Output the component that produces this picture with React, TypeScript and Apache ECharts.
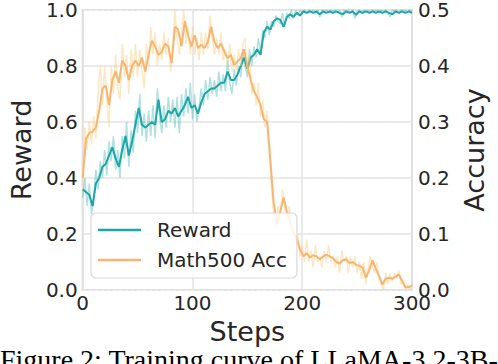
import React, { useEffect, useRef } from "react";
import * as echarts from "echarts";

// Smoothed curves, sampled every 3 steps (0..300)
const smoothSteps: number[] = [
  0, 3, 6, 9, 12, 15, 18, 21, 24, 27, 30, 33, 36, 39, 42, 45, 48, 51, 54, 57,
  60, 63, 66, 69, 72, 75, 78, 81, 84, 87, 90, 93, 96, 99, 102, 105, 108, 111, 114, 117,
  120, 123, 126, 129, 132, 135, 138, 141, 144, 147, 150, 153, 156, 159, 162, 165, 168, 171, 174, 177,
  180, 183, 186, 189, 192, 195, 198, 201, 204, 207, 210, 213, 216, 219, 222, 225, 228, 231, 234, 237,
  240, 243, 246, 249, 252, 255, 258, 261, 264, 267, 270, 273, 276, 279, 282, 285, 288, 291, 294, 297, 300,
];
const rewardSmooth: number[] = [
  0.36, 0.35, 0.34, 0.30, 0.38, 0.40, 0.44, 0.45, 0.48, 0.51, 0.47, 0.44, 0.50, 0.55, 0.48, 0.53, 0.59, 0.65, 0.59, 0.58,
  0.59, 0.60, 0.59, 0.68, 0.60, 0.61, 0.64, 0.63, 0.65, 0.62, 0.64, 0.66, 0.69, 0.65, 0.66, 0.63, 0.67, 0.70, 0.71, 0.72,
  0.72, 0.73, 0.74, 0.74, 0.78, 0.75, 0.75, 0.77, 0.80, 0.83, 0.79, 0.83, 0.84, 0.86, 0.84, 0.92, 0.94, 0.93, 0.96, 0.97,
  0.965, 0.94, 0.975, 0.985, 0.975, 0.99, 0.98, 0.995, 0.99, 0.995, 0.99, 0.995, 0.985, 0.995, 0.99, 0.995, 0.99, 0.995, 0.99, 0.985,
  0.995, 0.99, 0.995, 0.983, 0.995, 0.99, 0.995, 0.99, 0.995, 0.99, 0.995, 0.99, 0.995, 0.99, 0.985, 0.995, 0.99, 0.995, 0.99, 0.995, 0.99,
];
const accSmooth: number[] = [
  0.20, 0.27, 0.28, 0.283, 0.29, 0.32, 0.36, 0.365, 0.33, 0.375, 0.39, 0.37, 0.41, 0.40, 0.375, 0.40, 0.41, 0.40, 0.415, 0.39,
  0.42, 0.445, 0.435, 0.42, 0.425, 0.44, 0.435, 0.405, 0.47, 0.465, 0.435, 0.48, 0.455, 0.435, 0.455, 0.432, 0.438, 0.432, 0.443, 0.47,
  0.443, 0.432, 0.44, 0.426, 0.414, 0.42, 0.402, 0.408, 0.414, 0.43, 0.40, 0.375, 0.355, 0.345, 0.33, 0.305, 0.30, 0.23, 0.155, 0.118,
  0.14, 0.165, 0.14, 0.122, 0.102, 0.092, 0.072, 0.06, 0.066, 0.058, 0.062, 0.06, 0.055, 0.06, 0.063, 0.06, 0.057, 0.05, 0.047, 0.053,
  0.055, 0.048, 0.05, 0.045, 0.043, 0.04, 0.022, 0.035, 0.053, 0.038, 0.025, 0.01, 0.02, 0.022, 0.02, 0.024, 0.028, 0.016, 0.005, 0.005, 0.008,
];

// Raw (noisy) curves, sampled every 2 steps (0..300)
const rawSteps: number[] = [
  0, 2, 4, 6, 8, 10, 12, 14, 16, 18, 20, 22, 24, 26, 28, 30, 32, 34, 36, 38,
  40, 42, 44, 46, 48, 50, 52, 54, 56, 58, 60, 62, 64, 66, 68, 70, 72, 74, 76, 78,
  80, 82, 84, 86, 88, 90, 92, 94, 96, 98, 100, 102, 104, 106, 108, 110, 112, 114, 116, 118,
  120, 122, 124, 126, 128, 130, 132, 134, 136, 138, 140, 142, 144, 146, 148, 150, 152, 154, 156, 158,
  160, 162, 164, 166, 168, 170, 172, 174, 176, 178, 180, 182, 184, 186, 188, 190, 192, 194, 196, 198,
  200, 202, 204, 206, 208, 210, 212, 214, 216, 218, 220, 222, 224, 226, 228, 230, 232, 234, 236, 238,
  240, 242, 244, 246, 248, 250, 252, 254, 256, 258, 260, 262, 264, 266, 268, 270, 272, 274, 276, 278,
  280, 282, 284, 286, 288, 290, 292, 294, 296, 298, 300,
];
const rewardRaw: number[] = [
  0.33, 0.40, 0.30, 0.38, 0.27, 0.33, 0.43, 0.36, 0.46, 0.40, 0.50, 0.41, 0.53, 0.46, 0.55, 0.43, 0.50, 0.40, 0.55, 0.47,
  0.60, 0.44, 0.57, 0.49, 0.64, 0.56, 0.70, 0.55, 0.63, 0.53, 0.64, 0.55, 0.66, 0.54, 0.72, 0.62, 0.56, 0.66, 0.58, 0.69,
  0.60, 0.68, 0.58, 0.69, 0.56, 0.70, 0.62, 0.72, 0.63, 0.74, 0.61, 0.70, 0.60, 0.65, 0.72, 0.66, 0.75, 0.68, 0.76, 0.70,
  0.75, 0.69, 0.78, 0.71, 0.77, 0.71, 0.82, 0.74, 0.70, 0.79, 0.73, 0.80, 0.76, 0.86, 0.80, 0.76, 0.86, 0.80, 0.87, 0.83,
  0.90, 0.85, 0.93, 0.90, 0.96, 0.91, 0.96, 0.94, 0.98, 0.96, 0.95, 0.99, 0.94, 0.99, 0.97, 1.0, 0.97, 1.0, 0.98, 1.0,
  0.99, 1.0, 0.99, 1.0, 0.995, 1.0, 0.99, 1.0, 0.975, 1.0, 0.995, 1.0, 0.99, 1.0, 0.995, 1.0, 0.99, 1.0, 0.975, 1.0,
  0.995, 1.0, 0.99, 1.0, 0.97, 0.995, 1.0, 0.99, 1.0, 0.995, 1.0, 0.99, 1.0, 0.995, 1.0, 0.99, 1.0, 0.995, 1.0, 0.99,
  0.975, 1.0, 0.995, 1.0, 0.99, 1.0, 0.995, 1.0, 0.99, 1.0, 0.995,
];
const accRaw: number[] = [
  0.19, 0.29, 0.25, 0.30, 0.26, 0.31, 0.27, 0.35, 0.40, 0.33, 0.40, 0.34, 0.29, 0.40, 0.35, 0.42, 0.36, 0.34, 0.44, 0.38,
  0.42, 0.35, 0.43, 0.38, 0.44, 0.38, 0.43, 0.39, 0.36, 0.44, 0.40, 0.47, 0.42, 0.46, 0.40, 0.44, 0.41, 0.46, 0.42, 0.45,
  0.39, 0.43, 0.50, 0.45, 0.42, 0.46, 0.50, 0.44, 0.47, 0.42, 0.47, 0.42, 0.45, 0.41, 0.46, 0.42, 0.46, 0.43, 0.49, 0.45,
  0.42, 0.45, 0.42, 0.46, 0.41, 0.43, 0.40, 0.44, 0.39, 0.42, 0.39, 0.43, 0.40, 0.44, 0.45, 0.39, 0.42, 0.35, 0.37, 0.33,
  0.37, 0.31, 0.34, 0.29, 0.32, 0.26, 0.18, 0.14, 0.11, 0.15, 0.12, 0.18, 0.15, 0.12, 0.15, 0.10, 0.12, 0.08, 0.10, 0.06,
  0.08, 0.05, 0.09, 0.05, 0.07, 0.04, 0.08, 0.05, 0.06, 0.04, 0.07, 0.05, 0.08, 0.05, 0.06, 0.04, 0.06, 0.03, 0.07, 0.05,
  0.06, 0.03, 0.06, 0.04, 0.06, 0.03, 0.05, 0.02, 0.05, 0.01, 0.04, 0.06, 0.04, 0.03, 0.05, 0.02, 0.01, 0.0, 0.03, 0.01,
  0.03, 0.015, 0.03, 0.02, 0.035, 0.01, 0.02, 0.0, 0.01, 0.0, 0.01,
];

const xTicks = [0, 100, 200, 300];
const rewardTicks = [0, 0.2, 0.4, 0.6, 0.8, 1.0];
const accTicks = [0, 0.1, 0.2, 0.3, 0.4, 0.5];
const caption = "Figure 2: Training curve of LLaMA-3.2-3B-";

const FONT = "DejaVu Sans";
const TEXT = "#262626";

export default function App() {
  const ref = useRef<HTMLDivElement>(null);
  useEffect(() => {
    if (!ref.current) return;
    const chart = echarts.init(ref.current, undefined, { renderer: "svg" });
    const pair = (xs: number[], ys: number[]) => xs.map((x, i) => [x, ys[i]]);
    chart.setOption({
      animation: false,
      backgroundColor: "#ffffff",
      textStyle: { fontFamily: FONT },
      grid: {
        left: 80,
        right: 86,
        top: 10,
        bottom: 74,
        show: true,
        borderColor: "#d9d9d9",
        borderWidth: 2,
        backgroundColor: "transparent",
      },
      legend: {
        data: ["Reward", "Math500 Acc"],
        orient: "vertical",
        left: 91,
        top: 213,
        padding: [7, 10, 8, 7],
        icon: "rect",
        itemWidth: 43,
        itemHeight: 2.5,
        itemGap: 10,
        borderColor: "#d9d9d9",
        borderWidth: 1.2,
        borderRadius: 5,
        backgroundColor: "rgba(255,255,255,0.85)",
        textStyle: {
          fontFamily: FONT,
          fontSize: 20,
          color: TEXT,
          lineHeight: 20,
          height: 20,
          padding: [0, 0, 0, 11],
        },
      },
      xAxis: {
        type: "value",
        min: xTicks[0],
        max: xTicks[xTicks.length - 1],
        interval: 100,
        name: "Steps",
        nameLocation: "middle",
        nameGap: 24,
        nameTextStyle: { fontFamily: FONT, fontSize: 27, color: TEXT },
        axisLine: { show: false },
        axisTick: { show: false },
        axisLabel: {
          fontFamily: FONT,
          fontSize: 20,
          color: TEXT,
          margin: 3,
          showMinLabel: true,
          showMaxLabel: true,
        },
        splitLine: { show: true, lineStyle: { color: "#e3e3e3", width: 1.5 } },
      },
      yAxis: [
        {
          type: "value",
          min: rewardTicks[0],
          max: rewardTicks[rewardTicks.length - 1],
          interval: 0.2,
          name: "Reward",
          nameLocation: "middle",
          nameRotate: 90,
          nameGap: 43,
          nameTextStyle: { fontFamily: FONT, fontSize: 27, color: TEXT },
          axisLine: { show: false },
          axisTick: { show: false },
          axisLabel: {
            fontFamily: FONT,
            fontSize: 20,
            color: TEXT,
            margin: 5,
            formatter: (v: number) => v.toFixed(1),
            showMinLabel: true,
            showMaxLabel: true,
          },
          splitLine: { show: true, lineStyle: { color: "#e3e3e3", width: 1.5 } },
        },
        {
          type: "value",
          position: "right",
          min: accTicks[0],
          max: accTicks[accTicks.length - 1],
          interval: 0.1,
          name: "Accuracy",
          nameLocation: "middle",
          nameRotate: 90,
          nameGap: 43,
          nameTextStyle: { fontFamily: FONT, fontSize: 27, color: TEXT },
          axisLine: { show: false },
          axisTick: { show: false },
          axisLabel: {
            fontFamily: FONT,
            fontSize: 20,
            color: TEXT,
            margin: 6,
            formatter: (v: number) => v.toFixed(1),
            showMinLabel: true,
            showMaxLabel: true,
          },
          splitLine: {
            show: true,
            lineStyle: { color: "#ebebeb", width: 1, type: "dashed" },
          },
        },
      ],
      series: [
        {
          name: "Reward raw",
          type: "line",
          yAxisIndex: 0,
          data: pair(rawSteps, rewardRaw),
          showSymbol: false,
          symbol: "none",
          lineStyle: { color: "rgba(30,168,168,0.35)", width: 1.5 },
          itemStyle: { color: "rgba(30,168,168,0.35)" },
        },
        {
          name: "Reward",
          type: "line",
          yAxisIndex: 0,
          data: pair(smoothSteps, rewardSmooth),
          showSymbol: false,
          symbol: "none",
          lineStyle: { color: "#1ea5a5", width: 2 },
          itemStyle: { color: "#1ea5a5" },
        },
        {
          name: "Math500 Acc raw",
          type: "line",
          yAxisIndex: 1,
          data: pair(rawSteps, accRaw),
          showSymbol: false,
          symbol: "none",
          lineStyle: { color: "rgba(252,205,125,0.45)", width: 1.5 },
          itemStyle: { color: "rgba(252,205,125,0.45)" },
        },
        {
          name: "Math500 Acc",
          type: "line",
          yAxisIndex: 1,
          data: pair(smoothSteps, accSmooth),
          showSymbol: false,
          symbol: "none",
          lineStyle: { color: "#f9b56f", width: 2 },
          itemStyle: { color: "#f9b56f" },
        },
      ],
      graphic: [
        {
          type: "text",
          left: 0,
          top: 345,
          style: {
            text: caption,
            font: '28px "Liberation Serif"',
            fill: "#000000",
          },
        },
      ],
    });
    return () => chart.dispose();
  }, []);
  return <div ref={ref} style={{ width: 498, height: 364, position: "absolute", left: 0, top: 0 }} />;
}
